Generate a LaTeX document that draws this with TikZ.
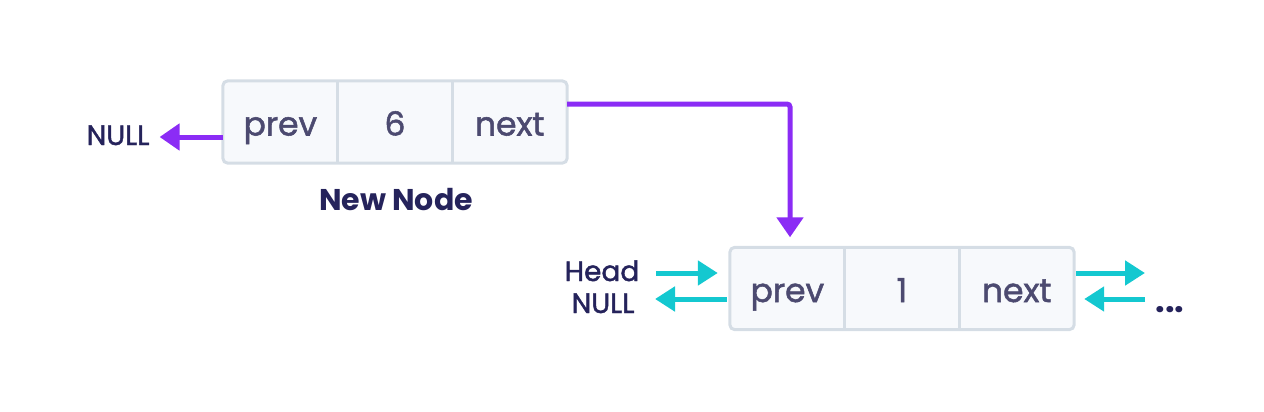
\documentclass[tikz,border=0pt]{standalone}
\usepackage{fontspec}
\setmainfont{Poppins}
\newfontfamily\medfont{Poppins}[FakeBold=1.6]
\usetikzlibrary{arrows.meta,calc}
\definecolor{cellfill}{HTML}{F7F9FC}
\definecolor{cellborder}{HTML}{D5DDE5}
\definecolor{celltext}{HTML}{4C4A70}
\definecolor{labeltext}{HTML}{25235B}
\definecolor{purp}{HTML}{8B2CF5}
\definecolor{cyanc}{HTML}{14C8D0}
\tikzset{
  cell/.style={minimum width=114.67pt,minimum height=82pt,inner sep=0pt},
  celltxt/.style={inner sep=0pt,anchor=base,text=celltext,font=\medfont\fontsize{33}{38}\selectfont},
  boxframe/.style={draw=cellborder,line width=3pt,rounded corners=5pt,fill=cellfill},
  divider/.style={draw=cellborder,line width=3pt},
  lbl/.style={inner sep=0pt,anchor=base,text=labeltext,font=\medfont\fontsize{28}{32}\selectfont},
  purparrow/.style={draw=purp,line width=5pt,-{Triangle[width=26pt,length=20pt]}},
  cyanarrow/.style={draw=cyanc,line width=5pt,-{Triangle[width=24pt,length=20pt]}},
}
\begin{document}
\begin{tikzpicture}[x=1pt,y=-1pt]
\useasboundingbox (0,0) rectangle (1264,412);
% top (new) node
\node[cell] (tp) at (280.33,122) {};
\node[cell] (tv) at (395,122) {};
\node[cell] (tn) at (509.67,122) {};
\path[boxframe] (tp.north west) rectangle (tn.south east);
\draw[divider] (tp.north east) -- (tp.south east);
\draw[divider] (tv.north east) -- (tv.south east);
\node[celltxt] (tpt) at (280.33,135.5) {prev};
\node[celltxt] (tvt) at (395,135.5) {6};
\node[celltxt] (tnt) at (509.67,135.5) {next};
\node[lbl,font=\fontsize{30}{34}\selectfont\bfseries] (newlbl) at (396,210) {New Node};
\node[lbl] (nullA) at (118,145) {NULL};
% bottom node
\node[cell] (bp) at (787.33,288.5) {};
\node[cell] (bv) at (902,288.5) {};
\node[cell] (bn) at (1016.67,288.5) {};
\path[boxframe] (bp.north west) rectangle (bn.south east);
\draw[divider] (bp.north east) -- (bp.south east);
\draw[divider] (bv.north east) -- (bv.south east);
\node[celltxt] (bpt) at (787.33,302) {prev};
\node[celltxt] (bvt) at (902,302) {1};
\node[celltxt] (bnt) at (1016.67,302) {next};
\node[lbl] (head) at (602,281) {Head};
\node[lbl] (nullB) at (603,313) {NULL};
\node[lbl,font=\fontsize{34}{38}\selectfont\bfseries] (dots) at (1170,312) {...};
% connectors
\draw[purparrow] ([yshift=-15pt]tp.west) -- ([yshift=-15pt,xshift=10pt]tp.west -| nullA.east);
\draw[purparrow,rounded corners=3pt] ([yshift=18pt]tn.east) -| ([xshift=2.67pt,yshift=10pt]bp.north);
\coordinate (hs) at (656,273);
\coordinate (ne) at (655,299);
\coordinate (re) at (1145,273);
\coordinate (rs) at (1145,299);
\draw[cyanarrow] (hs) -- ([yshift=15.5pt,xshift=-12pt]bp.west);
\draw[cyanarrow] ([yshift=-10.5pt,xshift=-3pt]bp.west) -- (ne);
\draw[cyanarrow] ([yshift=15.5pt,xshift=2pt]bn.east) -- (re);
\draw[cyanarrow] (rs) -- ([yshift=-10.5pt,xshift=10pt]bn.east);
\end{tikzpicture}
\end{document}
